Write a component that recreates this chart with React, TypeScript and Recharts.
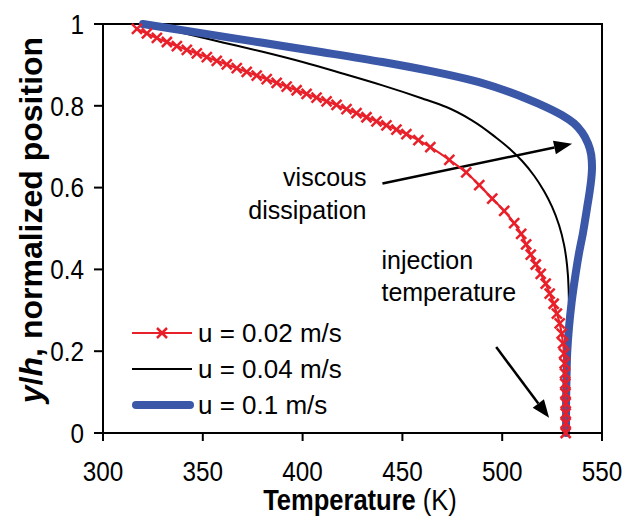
import {
  Legend,
  Line,
  LineChart,
  ReferenceArea,
  ReferenceDot,
  ReferenceLine,
  XAxis,
  YAxis,
} from "recharts";

const FONT = "'Liberation Sans', Arial, Helvetica, sans-serif";

const tempTicks = [300, 350, 400, 450, 500, 550];
const posTicks = [0, 0.2, 0.4, 0.6, 0.8, 1];

// [temperature K, y/h], top wall to bottom wall
const u002: [number, number][] = [
  [317, 0.988], [322, 0.977], [327, 0.966], [332, 0.956], [337, 0.946],
  [342, 0.937], [347, 0.928], [352, 0.919], [357, 0.91], [362, 0.901],
  [367, 0.892], [372, 0.883], [377, 0.874], [382, 0.865], [387, 0.856],
  [392, 0.847], [397, 0.838], [402, 0.829], [407, 0.82], [412, 0.811],
  [417, 0.802], [422, 0.792], [427, 0.782], [432, 0.772], [437, 0.762],
  [442, 0.752], [447, 0.742], [452, 0.731], [458, 0.716], [464, 0.699],
  [473.5, 0.668], [482, 0.637], [488.5, 0.606], [495, 0.573], [501, 0.543],
  [506, 0.513], [509.5, 0.487], [512, 0.461], [514.3, 0.436], [516.8, 0.412],
  [519.3, 0.389], [521.8, 0.365], [523.8, 0.341], [525.8, 0.316], [527.4, 0.292],
  [528.8, 0.268], [529.8, 0.243], [530.5, 0.219], [531, 0.194], [531.3, 0.17],
  [531.5, 0.146], [531.6, 0.121], [531.7, 0.097], [531.8, 0.073], [531.8, 0.048],
  [531.8, 0.024], [531.8, 0],
];

const u004: [number, number][] = [
  [320, 1.0], [340, 0.978], [360, 0.955], [380, 0.932], [400, 0.907],
  [420, 0.879], [440, 0.85], [460, 0.818], [472, 0.797], [485, 0.764],
  [497, 0.722], [504, 0.694], [510, 0.665], [516, 0.629], [521, 0.591],
  [525, 0.553], [528.5, 0.508], [531, 0.46], [532.5, 0.41], [533.3, 0.35],
  [533.5, 0.28], [533.5, 0.2], [533.4, 0.1], [533.3, 0],
];

const u01: [number, number][] = [
  [320, 1.0], [350, 0.977], [380, 0.954], [410, 0.931], [440, 0.907],
  [465, 0.884], [485, 0.862], [500, 0.84], [512, 0.818], [522, 0.797],
  [530, 0.777], [536, 0.757], [540, 0.735], [543, 0.708], [544.6, 0.68],
  [545, 0.65], [544.6, 0.62], [543.8, 0.59], [542.5, 0.55], [540.5, 0.49],
  [538.5, 0.44], [536.5, 0.38], [534.8, 0.32], [533.5, 0.26], [532.6, 0.2],
  [532.2, 0.13], [532, 0.06], [532, 0],
];

const series = [
  { key: "u002", name: "u = 0.02 m/s", color: "#e8202a", width: 2.2, points: u002, marker: true },
  { key: "u004", name: "u = 0.04 m/s", color: "#000000", width: 2, points: u004, marker: false },
  { key: "u01", name: "u = 0.1 m/s", color: "#3b57a7", width: 8, points: u01, marker: false },
];

const notes = [
  { key: "visc", lines: ["viscous", "dissipation"], T: 432, y: [0.605, 0.524], anchor: "end" },
  { key: "inj", lines: ["injection", "temperature"], T: 439.5, y: [0.402, 0.322], anchor: "start" },
];

const arrows = [
  { key: "a1", from: { x: 440, y: 0.61 }, to: { x: 535, y: 0.707 } },
  { key: "a2", from: { x: 497, y: 0.21 }, to: { x: 523.5, y: 0.037 } },
];

const toRows = (pts: [number, number][]) => pts.map(([T, y]) => ({ T, y }));

const SQUEEZE = 0.9;

function XMark({ cx, cy, color }: { cx: number; cy: number; color: string }) {
  const s = 5;
  return (
    <g stroke={color} strokeWidth={2.5}>
      <line x1={cx - s} y1={cy - s} x2={cx + s} y2={cy + s} />
      <line x1={cx - s} y1={cy + s} x2={cx + s} y2={cy - s} />
    </g>
  );
}

function XTick(props: any) {
  const { x, y, payload } = props;
  return (
    <text
      transform={`translate(${x},${y}) scale(${SQUEEZE},1)`}
      textAnchor="middle"
      dy="0.71em"
      fontFamily={FONT}
      fontSize={27}
      fill="#000"
    >
      {payload.value}
    </text>
  );
}

function YTick(props: any) {
  const { x, y, payload } = props;
  return (
    <text
      transform={`translate(${x},${y}) scale(${SQUEEZE},1)`}
      textAnchor="end"
      dy="0.36em"
      fontFamily={FONT}
      fontSize={27}
      fill="#000"
    >
      {payload.value}
    </text>
  );
}

function Arrow(props: any) {
  const { x1, y1, x2, y2 } = props;
  const ang = Math.atan2(y2 - y1, x2 - x1);
  const len = 18;
  const half = 7;
  const bx = x2 - len * Math.cos(ang);
  const by = y2 - len * Math.sin(ang);
  const px = -Math.sin(ang) * half;
  const py = Math.cos(ang) * half;
  return (
    <g>
      <line x1={x1} y1={y1} x2={bx} y2={by} stroke="#000" strokeWidth={2.5} />
      <polygon points={`${x2},${y2} ${bx + px},${by + py} ${bx - px},${by - py}`} fill="#000" />
    </g>
  );
}

function LegendBox() {
  return (
    <div style={{ fontFamily: FONT, fontSize: 26, color: "#000" }}>
      {series.map((s) => (
        <div key={s.key} style={{ display: "flex", alignItems: "center", height: 36 }}>
          <svg width={66} height={20} style={{ marginRight: 2 }}>
            <line
              x1={s.width > 4 ? 6 : 2}
              x2={s.width > 4 ? 60 : 62}
              y1={10}
              y2={10}
              stroke={s.color}
              strokeWidth={s.width}
              strokeLinecap={s.width > 4 ? "round" : "butt"}
            />
            {s.marker && <XMark cx={32} cy={10} color={s.color} />}
          </svg>
          <span>{s.name}</span>
        </div>
      ))}
    </div>
  );
}

export default function App() {
  return (
    <div style={{ position: "absolute", left: 0, top: 0, background: "#fff" }}>
      <LineChart width={623} height={517} margin={{ top: 24, right: 21, left: 0, bottom: 0 }}>
        <XAxis
          dataKey="T"
          type="number"
          domain={[300, 550]}
          ticks={tempTicks}
          height={84}
          allowDataOverflow
          tick={<XTick />}
          tickSize={8}
          tickMargin={21}
          axisLine={{ stroke: "#000", strokeWidth: 2 }}
          tickLine={{ stroke: "#000", strokeWidth: 2 }}
          label={{
            content: () => (
              <text
                transform={`translate(360,510) scale(0.88,1)`}
                textAnchor="middle"
                fontFamily={FONT}
                fontSize={29}
                fill="#000"
              >
                <tspan fontWeight="bold">Temperature</tspan>
                <tspan> (K)</tspan>
              </text>
            ),
          }}
        />
        <YAxis
          dataKey="y"
          type="number"
          domain={[0, 1]}
          ticks={posTicks}
          width={103}
          tick={<YTick />}
          tickSize={9}
          tickMargin={10}
          axisLine={{ stroke: "#000", strokeWidth: 2 }}
          tickLine={{ stroke: "#000", strokeWidth: 2 }}
          label={{
            content: () => {
              const cx = 31;
              const cy = 220;
              return (
                <text
                  x={cx}
                  y={cy}
                  transform={`rotate(-90, ${cx}, ${cy})`}
                  textAnchor="middle"
                  dominantBaseline="central"
                  fontFamily={FONT}
                  fontSize={32}
                  fontWeight="bold"
                  fill="#000"
                >
                  <tspan fontStyle="italic">y</tspan>
                  <tspan>/</tspan>
                  <tspan fontStyle="italic">h</tspan>
                  <tspan>, normalized position</tspan>
                </text>
              );
            },
          }}
        />
        <ReferenceArea x1={300} x2={550} y1={0} y2={1} fill="none" stroke="#000" strokeWidth={2} />
        {arrows.map((a) => (
          <ReferenceLine key={a.key} segment={[a.from, a.to]} shape={Arrow} />
        ))}
        {notes.map((n) =>
          n.lines.map((txt, i) => (
            <ReferenceDot
              key={`${n.key}-${i}`}
              x={n.T}
              y={n.y[i]}
              shape={(p: any) => (
                <text
                  x={p.cx}
                  y={p.cy}
                  textAnchor={n.anchor as any}
                  fontFamily={FONT}
                  fontSize={25}
                  fill="#000"
                >
                  {txt}
                </text>
              )}
            />
          ))
        )}
        {[series[1], series[2], series[0]].map((s) => (
          <Line
            key={s.key}
            data={toRows(s.points)}
            dataKey="y"
            name={s.name}
            type="monotoneY"
            stroke={s.color}
            strokeWidth={s.width}
            strokeLinecap="round"
            strokeLinejoin="round"
            isAnimationActive={false}
            dot={
              s.marker
                ? (p: any) => <XMark key={`m-${p.index}`} cx={p.cx} cy={p.cy} color={s.color} />
                : false
            }
            activeDot={false}
          />
        ))}
        <Legend
          layout="vertical"
          align="center"
          verticalAlign="middle"
          content={() => <LegendBox />}
          wrapperStyle={{ left: 130, top: 315, width: 260 }}
        />
      </LineChart>
    </div>
  );
}
